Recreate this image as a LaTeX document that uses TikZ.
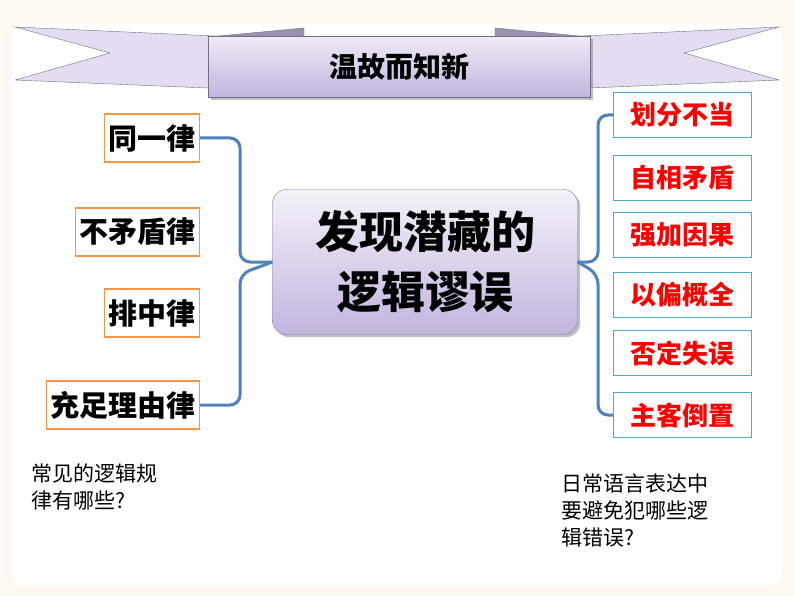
\documentclass[tikz,border=0pt]{standalone}
\usepackage{fontspec}
\setmainfont{Noto Sans CJK SC}
\newfontfamily\heavyfont{Noto Sans CJK SC Black}
\usetikzlibrary{positioning,shadows}
\definecolor{bracecol}{HTML}{4F81BD}
\definecolor{lawcol}{HTML}{F79646}
\definecolor{errcol}{HTML}{4BACC6}
\definecolor{lav}{HTML}{E4DCF0}
\definecolor{lavdark}{HTML}{C3B4DE}
\tikzset{
  lawbox/.style  = {draw=lawcol, line width=1.2pt, fill=white, font=\fontsize{29}{33}\selectfont\bfseries, inner sep=4pt, minimum height=48pt},
  errbox/.style  = {draw=errcol, line width=1.2pt, fill=white, text=red, font=\fontsize{26}{30}\selectfont\bfseries, minimum width=138pt, minimum height=45pt},
  centerbox/.style = {draw=lavdark!70!black, rounded corners=14pt, top color=lav!40, bottom color=lavdark, minimum width=305pt, minimum height=145pt, align=center, font=\heavyfont\fontsize{44}{60}\selectfont, drop shadow},
  brace/.style   = {draw=bracecol, line width=3pt, rounded corners=10pt},
  note/.style    = {align=left, anchor=north west, font=\fontsize{21}{27}\selectfont}
}
\begin{document}
\begin{tikzpicture}[x=1pt,y=-1pt]
\useasboundingbox (0,0) rectangle (794,596);
\fill[orange!6] (0,0) rectangle (794,596);
\fill[white, rounded corners=14pt] (12,24) rectangle (782,586);

% banner
\filldraw[fill=lav, draw=lavdark!60!black] (15,27) -- (304,40) -- (304,92) -- (15,80) -- (110,53) -- cycle;
\filldraw[fill=lav, draw=lavdark!60!black] (779,27) -- (495,40) -- (495,92) -- (779,80) -- (684,53) -- cycle;
\filldraw[fill=lavdark!80!black, draw=lavdark!60!black] (208,37) -- (304,28) -- (304,40) -- cycle;
\filldraw[fill=lavdark!80!black, draw=lavdark!60!black] (590,37) -- (495,28) -- (495,40) -- cycle;
\node[draw=lavdark!60!black, top color=lav!60, bottom color=lavdark, minimum width=382pt, minimum height=61pt, font=\fontsize{28}{32}\selectfont\bfseries, drop shadow] (title) at (399,67) {温故而知新};

% centre
\node[centerbox] (main) at (425,262) {发现潜藏的\\逻辑谬误};

% laws
\node[lawbox, anchor=east] (l1) at (200,138) {同一律};
\node[lawbox, anchor=east] (l2) at (200,232) {不矛盾律};
\node[lawbox, anchor=east] (l3) at (200,313) {排中律};
\node[lawbox, anchor=east] (l4) at (200,405) {充足理由律};

% errors
\node[errbox, anchor=west] (e1) at (613,115) {划分不当};
\node[errbox, anchor=west] (e2) at (613,178) {自相矛盾};
\node[errbox, anchor=west] (e3) at (613,235) {强加因果};
\node[errbox, anchor=west] (e4) at (613,295) {以偏概全};
\node[errbox, anchor=west] (e5) at (613,353) {否定失误};
\node[errbox, anchor=west] (e6) at (613,415) {主客倒置};

% braces
\draw[brace] (l1.east) -- (240,138) -- (240,262) -- (main.west);
\draw[brace] (main.west) -- (240,274) -- (240,405) -- (l4.east);
\draw[brace] (e1.west) -- (598,115) -- (598,262) -- (main.east);
\draw[brace] (main.east) -- (598,274) -- (598,415) -- (e6.west);

% questions
\node[note] (q1) at (28,460) {常见的逻辑规\\律有哪些?};
\node[note] (q2) at (558,470) {日常语言表达中\\要避免犯哪些逻\\辑错误?};
\end{tikzpicture}
\end{document}
